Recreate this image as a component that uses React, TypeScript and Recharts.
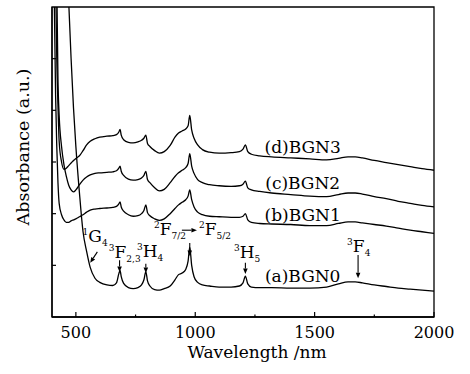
import React from 'react';
import { LineChart, Line, XAxis, YAxis, ReferenceArea, ReferenceLine, ReferenceDot, Label } from 'recharts';

// wavelength grid (nm) shared by all four spectra
const wavelength = [
  405, 410, 415, 420, 425, 430, 440, 450, 460, 470, 480, 490, 500, 515, 530, 545, 560, 580, 600, 630,
  655, 670, 680, 685, 690, 700, 720, 740, 760, 775, 785, 793, 800, 810, 830, 850, 870, 895, 915, 930,
  945, 960, 970, 977, 985, 995, 1010, 1030, 1060, 1100, 1150, 1185, 1200, 1210, 1220, 1235, 1270, 1320, 1400, 1480,
  1550, 1600, 1640, 1670, 1700, 1750, 1800, 1850, 1900, 1950, 2000,
];

const bgn0 = [
  9, 9, 9, 9, 9, 9, 9, 8.5, 7.2, 6.1, 5.0, 4.05, 3.3, 2.4, 1.65, 1.27, 0.96, 0.75, 0.67, 0.62,
  0.61, 0.66, 0.84, 0.9, 0.78, 0.65, 0.57, 0.55, 0.57, 0.62, 0.72, 0.88, 0.7, 0.6, 0.53, 0.52, 0.55, 0.6, 0.72, 0.82,
  0.85, 0.92, 1.08, 1.35, 1.0, 0.78, 0.67, 0.62, 0.6, 0.58, 0.58, 0.6, 0.66, 0.79, 0.64, 0.58, 0.57, 0.57, 0.56, 0.56,
  0.58, 0.64, 0.68, 0.68, 0.66, 0.62, 0.59, 0.56, 0.54, 0.52, 0.5,
];

const bgn1 = [
  8, 6, 4.3, 3.3, 2.6, 2.2, 1.98, 1.88, 1.83, 1.83, 1.86, 1.88, 1.9, 1.94, 1.98, 2.03, 2.07, 2.09, 2.1, 2.11,
  2.12, 2.14, 2.19, 2.23, 2.13, 2.05, 1.98, 1.95, 1.96, 2.0, 2.06, 2.17, 2.02, 1.96, 1.9, 1.87, 1.9, 2.0, 2.1, 2.17,
  2.22, 2.27, 2.34, 2.46, 2.27, 2.13, 2.03, 1.98, 1.95, 1.94, 1.93, 1.93, 1.95, 2.0, 1.88, 1.83, 1.81, 1.8, 1.79, 1.77,
  1.77, 1.81, 1.84, 1.84, 1.82, 1.79, 1.76, 1.72, 1.68, 1.65, 1.62,
];

const bgn2 = [
  9, 9, 8, 6.5, 4.6, 3.9, 3.3, 2.95, 2.72, 2.55, 2.46, 2.42, 2.46, 2.56, 2.65, 2.71, 2.75, 2.78, 2.79, 2.8,
  2.81, 2.83, 2.88, 2.92, 2.82, 2.74, 2.67, 2.65, 2.66, 2.69, 2.74, 2.82, 2.66, 2.6, 2.5, 2.44, 2.47, 2.6, 2.72, 2.79,
  2.84, 2.89, 2.97, 3.16, 2.92, 2.78, 2.66, 2.6, 2.56, 2.54, 2.53, 2.54, 2.57, 2.63, 2.5, 2.46, 2.43, 2.4, 2.37, 2.34,
  2.33, 2.37, 2.4, 2.4, 2.38, 2.33, 2.29, 2.24, 2.2, 2.16, 2.13,
];

const bgn3 = [
  9, 8, 6.6, 5.0, 4.1, 3.4, 3.0, 2.86, 2.88, 2.93, 2.98, 3.03, 3.07, 3.12, 3.22, 3.33, 3.4, 3.45, 3.48, 3.5,
  3.51, 3.53, 3.58, 3.63, 3.52, 3.43, 3.38, 3.37, 3.39, 3.42, 3.46, 3.52, 3.36, 3.3, 3.22, 3.17, 3.2, 3.32, 3.48, 3.56,
  3.6, 3.64, 3.7, 3.9, 3.62, 3.46, 3.33, 3.24, 3.19, 3.17, 3.18, 3.2, 3.25, 3.33, 3.2, 3.15, 3.12, 3.1, 3.08, 3.06,
  3.04, 3.07, 3.1, 3.1, 3.08, 3.03, 2.99, 2.95, 2.91, 2.87, 2.84,
];

const xMajorTicks = [500, 1000, 1500, 2000];
const xMinorTicks = [750, 1250, 1750];
const yTicks = [1, 2, 3, 4, 5];

// curve names, placed at a common wavelength
const seriesNames = ['(a)BGN0', '(b)BGN1', '(c)BGN2', '(d)BGN3'];
const seriesNameX = 1450;
const seriesNameY = [0.68, 1.86, 2.48, 3.17];

// Tm3+ / Yb3+ level labels: superscript, letter, subscript
const levelSup = ['1', '3', '3', '2', '2', '3', '3'];
const levelMain = ['G', 'F', 'H', 'F', 'F', 'H', 'F'];
const levelSub = ['4', '2,3', '4', '7/2', '5/2', '5', '4'];
const levelX = [528, 638, 756, 827, 1016, 1162, 1636];
const levelY = [1.45, 1.14, 1.16, 1.59, 1.59, 1.14, 1.26];

// arrows [x1, y1, x2, y2] in data units
const arrows = [
  [590, 1.26, 560, 1.05],
  [683, 1.1, 683, 0.87],
  [793, 1.03, 793, 0.85],
  [977, 1.43, 977, 1.18],
  [1210, 1.05, 1210, 0.83],
  [1682, 1.2, 1682, 0.75],
  [944, 1.68, 1007, 1.68],
];

const data = wavelength.map((w, i) => ({ w, a: bgn0[i], b: bgn1[i], c: bgn2[i], d: bgn3[i] }));

const FONT = 'DejaVu Serif';

const XTick = (props: any) => {
  const { x, y, payload } = props;
  const major = xMajorTicks.includes(payload.value);
  return (
    <g>
      <line x1={x} y1={y} x2={x} y2={y - (major ? 5 : 2.5)} stroke="#000" strokeWidth={1.2} />
      {major && (
        <text x={x} y={y + 21} textAnchor="middle" fontFamily={FONT} fontSize={16} fill="#000">
          {payload.value}
        </text>
      )}
    </g>
  );
};

const YTick = (props: any) => {
  const { x, y } = props;
  return <line x1={x} y1={y} x2={x + 4} y2={y} stroke="#000" strokeWidth={1.2} />;
};

const Arrow = (props: any) => {
  const { x1, y1, x2, y2 } = props;
  const dx = x2 - x1;
  const dy = y2 - y1;
  const len = Math.sqrt(dx * dx + dy * dy) || 1;
  const ux = dx / len;
  const uy = dy / len;
  const hl = 5.5;
  const hw = 2.3;
  const bx = x2 - ux * hl;
  const by = y2 - uy * hl;
  const pts = `${x2},${y2} ${bx - uy * hw},${by + ux * hw} ${bx + uy * hw},${by - ux * hw}`;
  return (
    <g>
      <line x1={x1} y1={y1} x2={bx} y2={by} stroke="#000" strokeWidth={1.1} />
      <polygon points={pts} fill="#000" />
    </g>
  );
};

const App = () => {
  return (
    <div style={{ position: 'absolute', left: 0, top: 0, background: '#fff' }}>
      <LineChart width={470} height={374} data={data} margin={{ top: 7, right: 36, bottom: 0, left: 0 }}>
        <XAxis
          dataKey="w"
          type="number"
          domain={[400, 2000]}
          ticks={[...xMajorTicks, ...xMinorTicks]}
          tick={<XTick />}
          tickLine={false}
          tickSize={0}
          tickMargin={0}
          height={57}
          axisLine={{ stroke: '#000', strokeWidth: 1.3 }}
          interval={0}
        >
          <Label
            content={(p: any) => (
              <text
                x={p.viewBox.x + p.viewBox.width / 2 + 14}
                y={p.viewBox.y + 41}
                textAnchor="middle"
                fontFamily={FONT}
                fontSize={17}
                fill="#000"
              >
                Wavelength /nm
              </text>
            )}
          />
        </XAxis>
        <YAxis
          type="number"
          domain={[0, 6]}
          ticks={yTicks}
          allowDataOverflow
          tick={<YTick />}
          tickLine={false}
          tickSize={0}
          tickMargin={0}
          width={52}
          axisLine={{ stroke: '#000', strokeWidth: 1.3 }}
          interval={0}
        >
          <Label
            content={(p: any) => {
              const cx = p.viewBox.x + 29;
              const cy = p.viewBox.y + p.viewBox.height / 2 - 15;
              return (
                <text
                  x={cx}
                  y={cy}
                  transform={`rotate(-90, ${cx}, ${cy})`}
                  textAnchor="middle"
                  fontFamily={FONT}
                  fontSize={17.5}
                  fill="#000"
                >
                  Absorbance (a.u.)
                </text>
              );
            }}
          />
        </YAxis>
        <ReferenceArea x1={400} x2={2000} y1={0} y2={6} fill="none" stroke="#000" strokeWidth={1.3} />
        <Line type="monotone" dataKey="a" stroke="#000" strokeWidth={1.3} dot={false} isAnimationActive={false} />
        <Line type="monotone" dataKey="b" stroke="#000" strokeWidth={1.3} dot={false} isAnimationActive={false} />
        <Line type="monotone" dataKey="c" stroke="#000" strokeWidth={1.3} dot={false} isAnimationActive={false} />
        <Line type="monotone" dataKey="d" stroke="#000" strokeWidth={1.3} dot={false} isAnimationActive={false} />
        {seriesNames.map((name, i) => (
          <ReferenceDot
            key={name}
            x={seriesNameX}
            y={seriesNameY[i]}
            r={1}
            shape={(p: any) => (
              <text x={p.cx} y={p.cy} textAnchor="middle" fontFamily={FONT} fontSize={17} fill="#000">
                {name}
              </text>
            )}
          />
        ))}
        {levelMain.map((m, i) => (
          <ReferenceDot
            key={'lv' + i}
            x={levelX[i]}
            y={levelY[i]}
            r={1}
            shape={(p: any) => (
              <text x={p.cx} y={p.cy} fontFamily={FONT} fontSize={17} fill="#000">
                <tspan fontSize={9} dy={-7}>{levelSup[i]}</tspan>
                <tspan dy={7}>{m}</tspan>
                <tspan fontSize={9} dy={4}>{levelSub[i]}</tspan>
              </text>
            )}
          />
        ))}
        {arrows.map((a, i) => (
          <ReferenceLine
            key={'ar' + i}
            segment={[{ x: a[0], y: a[1] }, { x: a[2], y: a[3] }]}
            shape={<Arrow />}
          />
        ))}
      </LineChart>
    </div>
  );
};

export default App;
